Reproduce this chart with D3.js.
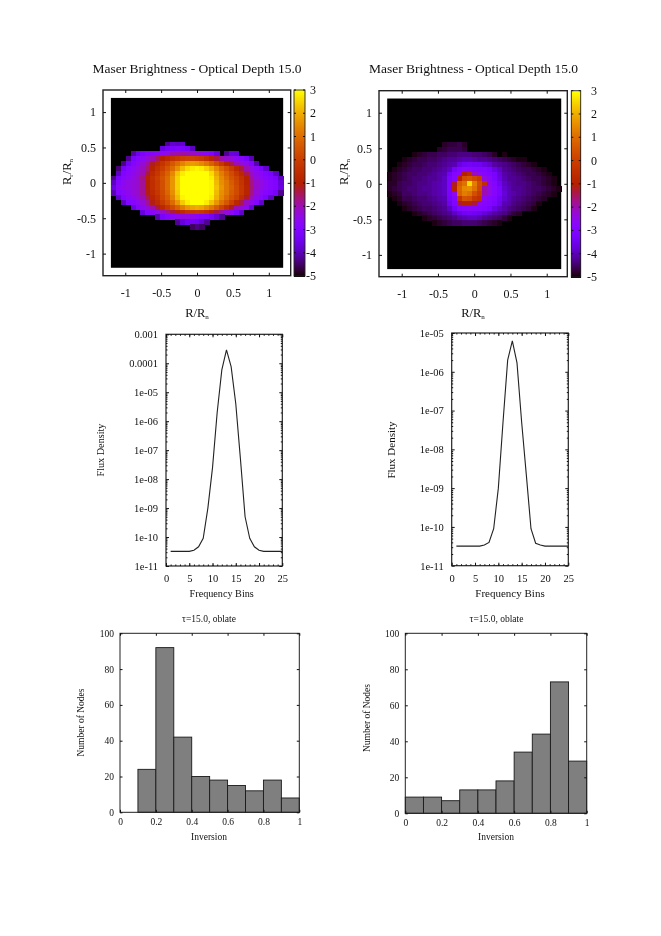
<!DOCTYPE html>
<html><head><meta charset="utf-8">
<style>html,body{margin:0;background:#fff}svg{display:block;filter:blur(0.35px)}text{font-family:"Liberation Serif",serif;fill:#111}</style>
<script src="https://cdn.jsdelivr.net/npm/d3@7"></script></head><body>
<svg id="c" width="661" height="936"></svg>
<script>
const o = -5;
const heatLeft = [
[],[],[],[],[],[],[],[],[],
[o,o,o,o,o,o,o,o,o,o,o,-4.2,-3.8,-3.9,-3.8],
[o,o,o,o,o,o,o,o,o,o,-3.6,-3.3,-3.1,-3.0,-3.1,-3.3,-3.9],
[o,o,o,o,-4.1,-3.5,-3.1,-2.9,-2.8,-2.7,-2.6,-2.4,-2.0,-1.9,-1.9,-2,-2.1,-2.3,-2.5,-2.7,-3.0,-3.6,o,-4.2,-3.6,-3.7],
[o,o,o,-4.2,-3.2,-2.8,-2.6,-2.3,-2,-1.5,-1,-.7,-.4,-.2,0,.1,.1,0,-.1,-.4,-.8,-1.3,-1.9,-2.2,-2.3,-2.6,-2.8,-3.2,-4],
[o,o,-4.3,-3.4,-2.9,-2.6,-2.3,-1.9,-1.2,-.7,-.3,.1,.6,1,1.4,1.7,1.8,1.7,1.5,1.2,.8,.3,-.2,-.8,-1.4,-2,-2.3,-2.5,-3,-4],
[o,-4.4,-3.3,-2.8,-2.6,-2.4,-2.1,-1.6,-.9,-.4,0,.5,1,1.6,2.2,2.6,2.8,2.9,2.8,2.5,2.1,1.5,.9,.4,-.1,-.7,-1.3,-2,-2.4,-2.7,-3.1,-3.8],
[o,-3.9,-3,-2.7,-2.5,-2.3,-2,-1.3,-.6,-.2,.3,.8,1.5,2.3,2.8,3,3,3,3,3,2.6,1.9,1.3,.8,.3,-.2,-.7,-1.4,-2.1,-2.5,-2.7,-3,-3.2,-3.9],
[-4.3,-3.2,-2.8,-2.6,-2.4,-2.2,-1.7,-.9,-.4,0,.5,1,1.7,2.5,3,3,3,3,3,3,2.8,2.1,1.5,1,.5,.1,-.4,-1,-1.9,-2.4,-2.6,-2.8,-3,-3.2,-3.9],
[-3.9,-2.9,-2.6,-2.4,-2.3,-2.2,-1.8,-1,-.5,-.1,.4,1,1.7,2.5,3,3,3,3,3,3,2.9,2.2,1.6,1.2,.7,.2,-.3,-.9,-1.7,-2.2,-2.4,-2.6,-2.8,-3,-3.7],
[-3.6,-2.7,-2.5,-2.4,-2.3,-2.2,-1.8,-1,-.5,-.1,.4,1,1.7,2.5,3,3,3,3,3,3,2.9,2.3,1.7,1.2,.8,.3,-.2,-.8,-1.6,-2.2,-2.4,-2.6,-2.8,-3,-3.6],
[-4,-3,-2.7,-2.5,-2.3,-2.2,-1.8,-1.1,-.6,-.2,.3,.9,1.6,2.4,3,3,3,3,3,3,2.9,2.2,1.6,1.2,.7,.3,-.2,-.8,-1.7,-2.3,-2.6,-2.8,-3,-3.3,-4.2],
[o,-3.8,-3,-2.7,-2.5,-2.3,-2,-1.4,-.8,-.4,.2,.7,1.4,2.2,2.9,3,3,3,3,3,2.8,2.1,1.5,1,.5,.1,-.5,-1.2,-2,-2.5,-2.8,-3.2,-3.9],
[o,o,-3.9,-3,-2.8,-2.6,-2.3,-1.8,-1.1,-.6,-.1,.4,1,1.7,2.4,2.8,3,3,3,2.8,2.3,1.7,1.1,.6,0,-.7,-1.4,-2.1,-2.5,-2.9,-3.8],
[o,o,o,o,-3.6,-2.9,-2.6,-2.3,-1.9,-1.3,-.7,-.2,.3,.8,1.3,1.7,1.9,2,1.9,1.6,1.2,.7,.1,-.5,-1.2,-2,-2.3,-2.6,-3.7],
[o,o,o,o,o,o,-3.7,-3,-2.7,-2.4,-2.1,-1.7,-1.3,-.9,-.6,-.3,-.2,-.1,-.2,-.4,-.8,-1.3,-1.9,-2.3,-2.6,-3.1,-3.8],
[o,o,o,o,o,o,o,o,o,-4,-3.2,-2.9,-2.7,-2.5,-2.4,-2.4,-2.5,-2.7,-2.9,-3,-3.3,-3.7,-4.2],
[o,o,o,o,o,o,o,o,o,o,o,o,o,-4.2,-3.7,-3.4,-3.3,-3.4,-3.7,-4.2],
[o,o,o,o,o,o,o,o,o,o,o,o,o,o,o,o,-4.5,-4.3,-4.5]
];
const heatRight = [
[],[],[],[],[],[],[],[],[],
[o,o,o,o,o,o,o,o,o,o,o,-4.8,-4.7,-4.7,-4.6,-4.8],
[o,o,o,o,o,o,o,o,o,o,-4.8,-4.7,-4.6,-4.6,-4.6,-4.7],
[o,o,o,o,o,-4.9,-4.8,-4.7,-4.6,-4.6,-4.5,-4.5,-4.4,-4.4,-4.3,-4.3,-4.3,-4.4,-4.4,-4.5,-4.6,-4.8,o,-4.9],
[o,o,o,-4.9,-4.8,-4.7,-4.6,-4.6,-4.5,-4.5,-4.4,-4.3,-4.2,-4.2,-4.1,-4,-4,-4.1,-4.2,-4.2,-4.3,-4.4,-4.5,-4.6,-4.7,-4.8,-4.9,-4.9],
[o,o,-4.9,-4.8,-4.7,-4.6,-4.6,-4.5,-4.4,-4.4,-4.3,-4.2,-4.1,-4,-3.6,-3.4,-3.3,-3.4,-3.4,-3.6,-3.8,-4.1,-4.2,-4.3,-4.4,-4.5,-4.6,-4.7,-4.8,-4.9],
[o,-4.9,-4.8,-4.7,-4.6,-4.5,-4.5,-4.4,-4.4,-4.3,-4.2,-4.1,-3.9,-3.3,-3,-2.7,-2.8,-2.9,-3,-3,-3.2,-3.6,-3.9,-4.2,-4.3,-4.4,-4.5,-4.6,-4.6,-4.7,-4.8,-4.9],
[-4.9,-4.8,-4.7,-4.6,-4.5,-4.5,-4.4,-4.4,-4.3,-4.2,-4.1,-4,-3.4,-2.9,-2.7,-1,-.6,-2.1,-2.6,-2.8,-3,-3.2,-3.7,-4.1,-4.2,-4.3,-4.4,-4.5,-4.6,-4.6,-4.7,-4.8,-4.9],
[-4.9,-4.8,-4.7,-4.6,-4.5,-4.4,-4.4,-4.3,-4.2,-4.2,-4.1,-3.9,-3.2,-2.8,-.8,.3,.5,.2,-.1,-2.4,-2.7,-3.1,-3.6,-4,-4.2,-4.2,-4.3,-4.4,-4.5,-4.6,-4.6,-4.7,-4.8,-4.9],
[-4.8,-4.8,-4.6,-4.5,-4.5,-4.4,-4.3,-4.3,-4.2,-4.1,-4,-3.9,-3.1,-1.2,.7,1.1,2.6,1.3,.3,-.5,-2.5,-2.9,-3.4,-3.9,-4.1,-4.2,-4.3,-4.3,-4.4,-4.5,-4.6,-4.7,-4.8,-4.9],
[-4.8,-4.7,-4.6,-4.5,-4.4,-4.4,-4.3,-4.2,-4.2,-4.1,-4,-3.9,-3.1,-.9,.9,1.5,1.6,1.1,.2,-2,-2.4,-2.8,-3.2,-3.8,-4,-4.2,-4.2,-4.3,-4.4,-4.5,-4.5,-4.6,-4.7,-4.8,-4.9],
[-4.9,-4.8,-4.7,-4.5,-4.5,-4.4,-4.3,-4.3,-4.2,-4.1,-4,-3.9,-3.2,-2.5,.8,1.3,1.1,.4,-.1,-2,-2.4,-2.8,-3.2,-3.7,-4,-4.1,-4.2,-4.3,-4.4,-4.5,-4.6,-4.7,-4.8,-4.9],
[o,-4.9,-4.8,-4.6,-4.6,-4.5,-4.4,-4.4,-4.3,-4.2,-4.1,-4,-3.3,-2.9,-.3,.5,.4,-.2,-.4,-2.6,-2.8,-3,-3.4,-3.8,-4,-4.2,-4.3,-4.4,-4.5,-4.6,-4.7,-4.8],
[o,o,-4.9,-4.8,-4.7,-4.6,-4.5,-4.4,-4.4,-4.3,-4.2,-4.1,-3.5,-3,-1.3,-.9,-.9,-1.3,-2.5,-2.8,-2.9,-3.1,-3.5,-4,-4.1,-4.3,-4.4,-4.5,-4.6,-4.7,-4.9],
[o,o,o,-4.9,-4.8,-4.7,-4.6,-4.5,-4.5,-4.4,-4.3,-4.2,-3.9,-3.4,-2.9,-2.8,-2.7,-2.8,-2.9,-3,-3.2,-3.6,-3.9,-4.1,-4.3,-4.4,-4.5,-4.6,-4.7,-4.9],
[o,o,o,o,o,-4.9,-4.8,-4.7,-4.6,-4.5,-4.4,-4.3,-4.2,-3.9,-3.6,-3.4,-3.3,-3.4,-3.5,-3.7,-3.9,-4.1,-4.2,-4.3,-4.5,-4.7,-4.8],
[o,o,o,o,o,o,o,-4.9,-4.8,-4.7,-4.6,-4.5,-4.4,-4.3,-4.1,-4,-3.9,-3.9,-4,-4.2,-4.3,-4.4,-4.5,-4.7,-4.9],
[o,o,o,o,o,o,o,o,o,-4.9,-4.8,-4.7,-4.6,-4.5,-4.5,-4.4,-4.4,-4.4,-4.5,-4.6,-4.7,-4.8,-4.9]
];
const binsLine = [1,2,3,4,5,6,7,8,9,10,11,12,13,14,15,16,17,18,19,20,21,22,23,24,25];
const fluxLeft = [3.2e-11,3.2e-11,3.2e-11,3.2e-11,3.2e-11,3.5e-11,4.6e-11,9e-11,1e-9,2.5e-8,2e-6,5.9e-5,2.9e-4,7.6e-5,4e-6,5e-8,5e-10,9e-11,4.6e-11,3.5e-11,3.2e-11,3.2e-11,3.2e-11,3.2e-11,3.2e-11];
const fluxRight = [3.2e-11,3.2e-11,3.2e-11,3.2e-11,3.2e-11,3.2e-11,3.4e-11,4e-11,9e-11,1e-9,5e-8,2e-6,6.3e-6,1.7e-6,5e-8,2.2e-9,9e-11,3.8e-11,3.4e-11,3.2e-11,3.2e-11,3.2e-11,3.2e-11,3.2e-11,3.2e-11];
const histBins = [0,.1,.2,.3,.4,.5,.6,.7,.8,.9];
const histLeft = [0,24,92,42,20,18,15,12,18,8];
const histRight = [9,9,7,13,13,18,34,44,73,29];
const mapTicks = [-1,-.5,0,.5,1];
const cbTicks = [3,2,1,0,-1,-2,-3,-4,-5];
const titleMap = "Maser Brightness - Optical Depth 15.0";
const titleHist = "\u03c4=15.0, oblate";

const svg = d3.select("#c");
const TAU = Math.PI*2;
const palette = t => { // gnuplot rgbformulae 7,5,15
  const c = v => Math.round(255*Math.max(0,Math.min(1,v)));
  return `rgb(${c(Math.sqrt(t))},${c(t*t*t)},${c(Math.sin(TAU*t))})`;
};
const valueColor = d3.scaleSequential(palette).domain([-5,3]).clamp(true);

function ticks(g, scale, side, box, values, size, fmt, font, pad){
  const ax = {bottom:d3.axisBottom,top:d3.axisTop,left:d3.axisLeft,right:d3.axisRight}[side](scale)
    .tickValues(values).tickSizeInner(-size).tickSizeOuter(0).tickPadding(pad).tickFormat(fmt||"");
  const t = side==="bottom"?[0,box.y1]:side==="top"?[0,box.y0]:side==="left"?[box.x0,0]:[box.x1,0];
  const s = g.append("g").attr("transform",`translate(${t})`).call(ax);
  s.select(".domain").remove();
  s.selectAll("line").attr("stroke","#111").attr("stroke-width",1);
  s.selectAll("text").style("font-family",'"Liberation Serif",serif').style("font-size",font+"px").attr("fill","#111");
  return s;
}
function frame(g, box, w){
  g.append("rect").attr("x",box.x0).attr("y",box.y0).attr("width",box.x1-box.x0).attr("height",box.y1-box.y0)
    .attr("fill","none").attr("stroke","#222").attr("stroke-width",w);
}
function label(x,y,size,rot){
  const t = svg.append("text").attr("font-size",size).attr("text-anchor","middle");
  if(rot) t.attr("transform",`translate(${x},${y}) rotate(-90)`); else t.attr("x",x).attr("y",y);
  return t;
}

function heatPanel(p){
  const g = svg.append("g");
  const x = d3.scaleLinear().domain(p.xd).range([p.box.x0,p.box.x1]);
  const y = d3.scaleLinear().domain(p.yd).range([p.box.y1,p.box.y0]);
  const n = 35;
  const cx = d3.scaleLinear().domain([0,n]).range([x(-1.2),x(1.2)]);
  const cy = d3.scaleLinear().domain([0,n]).range([y(1.2),y(-1.2)]);
  g.append("rect").attr("x",cx(0)).attr("y",cy(0)).attr("width",cx(n)-cx(0)).attr("height",cy(n)-cy(0)).attr("fill",valueColor(-5));
  p.data.forEach((row,r)=>{
    g.selectAll(null).data(row.map((v,c)=>({v,c})).filter(e=>e.v>-5)).join("rect")
      .attr("shape-rendering","crispEdges")
      .attr("x",e=>cx(e.c)).attr("y",cy(r)).attr("width",e=>cx(e.c+1)-cx(e.c)+.6).attr("height",cy(r+1)-cy(r)+.6)
      .attr("fill",e=>valueColor(e.v));
  });
  frame(g,p.box,1.4);
  const fmt = v => String(v);
  ticks(g,x,"bottom",p.box,mapTicks,3,fmt,12,13);
  ticks(g,x,"top",p.box,mapTicks,3,null,12,3).selectAll("text").remove();
  ticks(g,y,"left",p.box,mapTicks,3,fmt,12,7);
  ticks(g,y,"right",p.box,mapTicks,3,null,12,3).selectAll("text").remove();
  // colour bar
  const cb = p.cb, cs = d3.scaleLinear().domain([-5,3]).range([cb.y1,cb.y0]);
  const step = 8/186;
  const steps = d3.range(-5,3,step);
  g.selectAll(null).data(steps).join("rect").attr("shape-rendering","crispEdges")
    .attr("x",cb.x0).attr("width",cb.x1-cb.x0)
    .attr("y",v=>cs(v+step)).attr("height",v=>cs(v)-cs(v+step)+1).attr("fill",v=>valueColor(v));
  frame(g,cb,.9);
  g.selectAll(null).data(cbTicks).join("path").attr("stroke","#111")
    .attr("d",v=>`M${cb.x0},${cs(v)}h2M${cb.x1},${cs(v)}h-2`);
  g.selectAll(null).data(cbTicks).join("text").attr("font-size",12).attr("text-anchor","end")
    .attr("x",p.cbLabelX).attr("y",v=>cs(v)+4).text(v=>v);
  label(p.titleX,73,13.5).text(titleMap);
  const xl = label(p.xlabX,317,12.5);
  xl.append("tspan").text("R/R");
  xl.append("tspan").text("n").attr("font-size",7).attr("dy",2);
  const yl = label(p.ylabX,p.ylabY,12.5,true);
  yl.append("tspan").text("R");
  yl.append("tspan").text("r").attr("font-size",7).attr("dy",2);
  yl.append("tspan").text("/R").attr("dy",-2);
  yl.append("tspan").text("n").attr("font-size",7).attr("dy",2);
}
function logPanel(p){
  const g = svg.append("g");
  const x = d3.scaleLinear().domain([0,25]).range([p.box.x0,p.box.x1]);
  const y = d3.scaleLog().domain(p.yd).range([p.box.y1,p.box.y0]);
  const line = d3.line().x((d,i)=>x(binsLine[i])).y(d=>y(d));
  g.append("path").attr("d",line(p.data)).attr("fill","none").attr("stroke","#222").attr("stroke-width",1.1);
  frame(g,p.box,1.2);
  const major = p.major;
  const fmt = v => p.fmt[major.indexOf(v)];
  const minorLog = major.slice(1).flatMap(m=>d3.range(2,10).map(k=>k*m/10)).filter(v=>v>p.yd[0]);
  ticks(g,x,"bottom",p.box,[0,5,10,15,20,25],3,v=>String(v),10.5,9);
  ticks(g,x,"top",p.box,[0,5,10,15,20,25],3,null,10,3).selectAll("text").remove();
  const mx = d3.range(1,25);
  ticks(g,x,"bottom",p.box,mx,1.5,null,10,3).selectAll("text").remove();
  ticks(g,x,"top",p.box,mx,1.5,null,10,3).selectAll("text").remove();
  ticks(g,y,"left",p.box,major,3,fmt,10.5,8);
  ticks(g,y,"right",p.box,major,3,null,10,3).selectAll("text").remove();
  ticks(g,y,"left",p.box,minorLog,1.5,null,10,3).selectAll("text").remove();
  ticks(g,y,"right",p.box,minorLog,1.5,null,10,3).selectAll("text").remove();
  label(p.xlabX,597,p.labelSize).text("Frequency Bins");
  label(p.ylabX,450,p.labelSize,true).text("Flux Density");
}
function histPanel(p){
  const g = svg.append("g");
  const x = d3.scaleLinear().domain([0,1]).range([p.box.x0,p.box.x1]);
  const y = d3.scaleLinear().domain([0,100]).range([p.box.y1,p.box.y0]);
  g.selectAll(null).data(p.data).join("rect")
    .attr("x",(d,i)=>x(histBins[i])).attr("width",(d,i)=>x(histBins[i]+.1)-x(histBins[i]))
    .attr("y",d=>y(d)).attr("height",d=>y(0)-y(d))
    .attr("fill","#7f7f7f").attr("stroke","#1a1a1a").attr("stroke-width",.9);
  frame(g,p.box,1);
  const xt=[0,.2,.4,.6,.8,1], yt=[0,20,40,60,80,100];
  ticks(g,x,"bottom",p.box,xt,2.5,v=>String(v),9.5,6);
  ticks(g,x,"top",p.box,xt,2.5,null,9,3).selectAll("text").remove();
  ticks(g,y,"left",p.box,yt,2.5,v=>String(v),9.5,6);
  ticks(g,y,"right",p.box,yt,2.5,null,9,3).selectAll("text").remove();
  label(p.titleX,621.5,9.5).text(titleHist);
  label(p.xlabX,840,9.5).text("Inversion");
  label(p.ylabX,p.ylabY,9.5,true).text("Number of Nodes");
}

heatPanel({data:heatLeft,box:{x0:103,x1:290.7,y0:90,y1:275.7},xd:[-1.31,1.305],yd:[-1.312,1.312],
  cb:{x0:294,x1:305,y0:90,y1:276},cbLabelX:316,titleX:197,xlabX:197,ylabX:71,ylabY:172});
heatPanel({data:heatRight,box:{x0:379,x1:567.3,y0:90.7,y1:276.7},xd:[-1.313,1.284],yd:[-1.307,1.31],
  cb:{x0:571.3,x1:580.7,y0:90.7,y1:277},cbLabelX:597,titleX:473.5,xlabX:473,ylabX:348,ylabY:172});
logPanel({data:fluxLeft,box:{x0:166,x1:282.3,y0:334.3,y1:566},yd:[1e-11,1e-3],labelSize:10.2,
  major:[1e-11,1e-10,1e-9,1e-8,1e-7,1e-6,1e-5,1e-4,1e-3],
  fmt:["1e-11","1e-10","1e-09","1e-08","1e-07","1e-06","1e-05","0.0001","0.001"],xlabX:221.7,ylabX:104});
logPanel({data:fluxRight,box:{x0:451.7,x1:568.3,y0:333,y1:565.7},yd:[1e-11,1e-5],labelSize:11,
  major:[1e-11,1e-10,1e-9,1e-8,1e-7,1e-6,1e-5],
  fmt:["1e-11","1e-10","1e-09","1e-08","1e-07","1e-06","1e-05"],xlabX:510,ylabX:395});
histPanel({data:histLeft,box:{x0:120,x1:299.3,y0:633.3,y1:812.3},titleX:209,xlabX:209,ylabX:84,ylabY:722.5});
histPanel({data:histRight,box:{x0:405.3,x1:586.7,y0:633.3,y1:813.3},titleX:496.5,xlabX:496,ylabX:370,ylabY:718});
</script></body></html>
